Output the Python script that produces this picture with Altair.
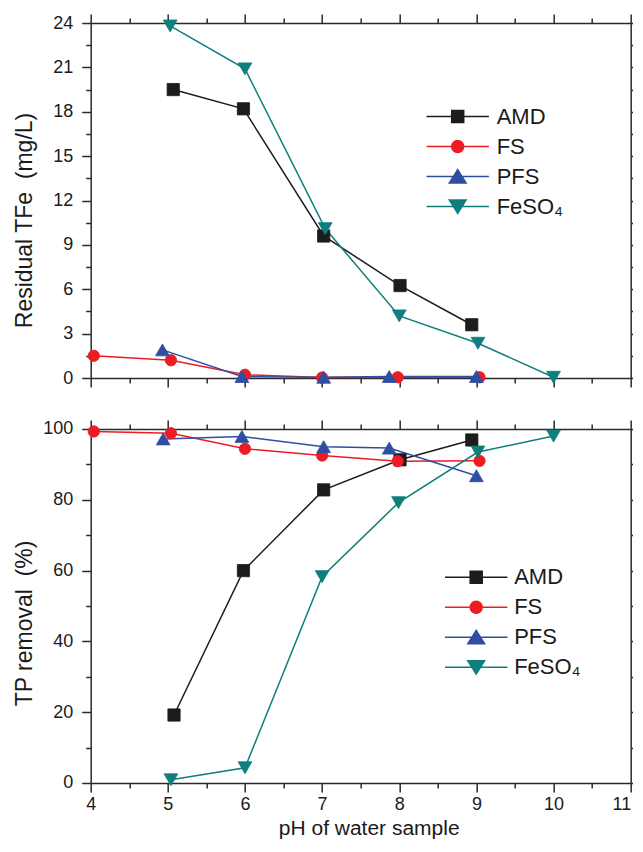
import altair as alt
import pandas as pd

# ---------------- data ----------------
series = ["AMD", "FS", "PFS", "FeSO₄"]
colors = ["#1c1c1c", "#ec1c24", "#2f4ea2", "#0e7f7c"]
marker_shapes = ["square", "circle", "triangle-up", "triangle-down"]
marker_sizes = [150, 130, 190, 190]
legend_paths = [
    "M-5.2,0H5.2M-1,-1H1V1H-1Z",
    "M-5.2,0H5.2M-1,0A1,1,0,1,0,1,0A1,1,0,1,0,-1,0Z",
    "M-5.2,0H5.2M0,-1.15L1.4,1.1H-1.4Z",
    "M-5.2,0H5.2M0,1.15L1.4,-1.1H-1.4Z",
]

x_major = [4, 5, 6, 7, 8, 9, 10, 11]
x_minor = [4.5, 5.5, 6.5, 7.5, 8.5, 9.5, 10.5]
tfe_major = [0, 3, 6, 9, 12, 15, 18, 21, 24]
tfe_minor = [1.5, 4.5, 7.5, 10.5, 13.5, 16.5, 19.5, 22.5]
tp_major = [0, 20, 40, 60, 80, 100]
tp_minor = [10, 30, 50, 70, 90]

# Residual TFe (mg/L)
amd_tfe_x = [5.07, 5.98, 7.02, 8.01, 8.94]
amd_tfe_y = [19.5, 18.2, 9.6, 6.25, 3.6]
fs_tfe_x = [4.04, 5.04, 6.0, 7.0, 7.98, 9.04]
fs_tfe_y = [1.5, 1.2, 0.22, 0.03, 0.05, 0.05]
pfs_tfe_x = [4.93, 5.96, 7.02, 7.87, 9.0]
pfs_tfe_y = [1.9, 0.1, 0.05, 0.1, 0.1]
feso4_tfe_x = [5.03, 6.0, 7.04, 8.0, 9.02, 10.0]
feso4_tfe_y = [23.8, 20.9, 10.1, 4.2, 2.35, 0.05]

# TP removal (%)
amd_tp_x = [5.08, 5.98, 7.02, 8.01, 8.94]
amd_tp_y = [19.2, 60.0, 82.8, 91.3, 96.9]
fs_tp_x = [4.04, 5.04, 6.0, 7.0, 7.98, 9.04]
fs_tp_y = [99.3, 98.8, 94.4, 92.5, 90.9, 91.0]
pfs_tp_x = [4.94, 5.96, 7.02, 7.87, 9.0]
pfs_tp_y = [97.2, 97.9, 95.0, 94.6, 86.8]
feso4_tp_x = [5.04, 6.0, 7.0, 7.99, 9.02, 10.0]
feso4_tp_y = [0.9, 4.3, 58.3, 79.2, 93.5, 98.0]

FONT = "Liberation Sans"
TXT = "#1a1a1a"
W = 540

# the last tick label ("11") sits at the right edge of the page: right-align it
label_align_x = {"condition": {"test": "datum.value == 11", "value": "right"},
                 "value": "center"}


def make_panel(xs_list, ys_list, ydomain, ymajor, yminor, ytitle, title_y,
               show_x, legend_x, legend_y, label_offset, height):
    rows = []
    for name, xs, ys in zip(series, xs_list, ys_list):
        for xv, yv in zip(xs, ys):
            rows.append({"series": name, "x": xv, "y": yv})
    df = pd.DataFrame(rows)
    xsc = alt.Scale(domain=[4, 11], nice=False, zero=False)
    ysc = alt.Scale(domain=ydomain, nice=False, zero=False)
    base = alt.Chart(df)

    def xenc(axis):
        return alt.X("x:Q", scale=xsc, axis=axis)

    def yenc(axis):
        return alt.Y("y:Q", scale=ysc, axis=axis)

    if show_x:
        x_main = alt.Axis(orient="bottom", values=x_major, tickSize=9, labels=True,
                          labelPadding=4, format="d", labelAlign=label_align_x,
                          title="pH of water sample", titleFontSize=21,
                          titleX=278, titleY=51.25, titleBaseline="alphabetic",
                          titleAlign="center")
    else:
        x_main = alt.Axis(orient="bottom", values=x_major, tickSize=9, labels=False,
                          title=None)
    y_main = alt.Axis(orient="left", values=ymajor, tickSize=9, labelPadding=9,
                      format="d", title=ytitle, titleFontSize=23, titleAngle=270,
                      titleX=-59, titleY=title_y, titleBaseline="alphabetic",
                      titleAlign="center")

    lines = base.mark_line(strokeWidth=1.5).encode(
        x=xenc(x_main),
        y=yenc(y_main),
        color=alt.Color("series:N", scale=alt.Scale(domain=series, range=colors),
                        legend=None),
    )

    pts = []
    for i, (name, col, shp, sz) in enumerate(zip(series, colors, marker_shapes, marker_sizes)):
        if i == 0:
            xa = alt.Axis(orient="bottom", values=x_minor, tickSize=5, labels=False,
                          domain=False, title=None)
            ya = alt.Axis(orient="left", values=yminor, tickSize=5, labels=False,
                          domain=False, title=None)
        else:
            xa = None
            ya = None
        pts.append(
            base.transform_filter(alt.datum.series == name)
            .mark_point(filled=True, shape=shp, size=sz, color=col, stroke=col,
                        strokeWidth=0.8, opacity=1)
            .encode(x=xenc(xa), y=yenc(ya))
        )

    frame_major = base.transform_filter("false").mark_point().encode(
        x=xenc(alt.Axis(orient="top", values=x_major, tickSize=9, labels=False, title=None)),
        y=yenc(alt.Axis(orient="right", values=ymajor, tickSize=9, labels=False, title=None)),
    )
    frame_minor = base.transform_filter("false").mark_point().encode(
        x=xenc(alt.Axis(orient="top", values=x_minor, tickSize=5, labels=False,
                        domain=False, title=None)),
        y=yenc(alt.Axis(orient="right", values=yminor, tickSize=5, labels=False,
                        domain=False, title=None)),
    )

    leg = alt.Legend(orient="none", legendX=legend_x, legendY=legend_y, title=None,
                     padding=0, symbolSize=144, symbolStrokeWidth=1.5,
                     labelFontSize=22, labelFont=FONT, labelColor=TXT,
                     labelOffset=label_offset, rowPadding=8, symbolOffset=0,
                     symbolOpacity=1)
    legend_layer = base.transform_filter("false").mark_point(filled=True, size=144).encode(
        x=xenc(None),
        y=yenc(None),
        fill=alt.Fill("series:N", scale=alt.Scale(domain=series, range=colors), legend=leg),
        stroke=alt.Stroke("series:N", scale=alt.Scale(domain=series, range=colors), legend=leg),
        shape=alt.Shape("series:N", scale=alt.Scale(domain=series, range=legend_paths),
                        legend=leg),
    )

    return (
        alt.layer(lines, *pts, frame_major, frame_minor, legend_layer)
        .resolve_axis(x="independent", y="independent")
        .properties(width=W, height=height)
    )


top = make_panel(
    [amd_tfe_x, fs_tfe_x, pfs_tfe_x, feso4_tfe_x],
    [amd_tfe_y, fs_tfe_y, pfs_tfe_y, feso4_tfe_y],
    [0, 24], tfe_major, tfe_minor, "Residual TFe \u00a0(mg/L)", 197,
    False, 356, 82.5, 28, 355,
)
bottom = make_panel(
    [amd_tp_x, fs_tp_x, pfs_tp_x, feso4_tp_x],
    [amd_tp_y, fs_tp_y, pfs_tp_y, feso4_tp_y],
    [0, 100], tp_major, tp_minor, "TP removal \u00a0(%)", 194,
    True, 374.5, 137.25, 27, 354,
)

chart = (
    alt.vconcat(top, bottom, spacing=51, bounds="flush")
    .resolve_scale(fill="independent", stroke="independent", shape="independent")
    .resolve_legend(fill="independent", stroke="independent", shape="independent")
    .properties(padding={"left": 5.7, "top": 5, "right": -8, "bottom": 0})
    .configure_view(stroke=None)
    .configure_axis(
        labelFont=FONT, titleFont=FONT, labelFontSize=18, titleFontSize=22,
        titleFontWeight="normal", labelColor=TXT, titleColor=TXT,
        domainColor="#2a2a2a", tickColor="#2a2a2a", domainWidth=1.5, tickWidth=1.5,
        grid=False, labelFlush=False, labelOverlap=False,
    )
)

chart.save("out.html", embed_options={"renderer": "svg", "actions": False})
